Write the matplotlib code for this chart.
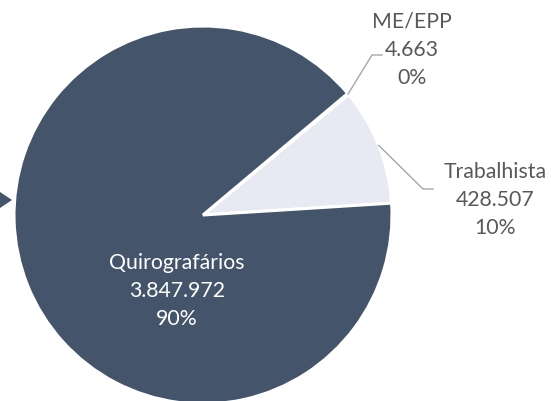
import numpy as np
import matplotlib
matplotlib.use("Agg")
import matplotlib.pyplot as plt
from matplotlib.patches import Polygon

plt.rcParams['font.family'] = ['Lato', 'DejaVu Sans']

# dados
categorias = ["Trabalhista", "ME/EPP", "Quirografários"]
valores = [428507, 4663, 3847972]
cores = ["#E7E9F3", "#44546A", "#44546A"]

W, H = 551, 401
fig = plt.figure(figsize=(W / 100, H / 100), dpi=100)
ax = fig.add_axes([0, 0, 1, 1])

cx, cy, r = 203, 186, 189
wedges, _ = ax.pie(valores, colors=cores, startangle=3.6, counterclock=True,
                   center=(cx, cy), radius=r, frame=True,
                   wedgeprops=dict(edgecolor="white", linewidth=2.2))
ax.set_xlim(0, W)
ax.set_ylim(0, H)
ax.set_aspect("equal")
ax.axis("off")

total = sum(valores)

def fmt(v):
    return f"{v:,}".replace(",", ".")

def rotulo(i):
    pct = round(valores[i] / total * 100)
    return f"{categorias[i]}\n{fmt(valores[i])}\n{pct}%"

tam = 15.3
esp = 1.5

# rótulo interno
ax.text(177, 110, rotulo(2), color="white", fontsize=tam, ha="center",
        va="center", linespacing=esp)

# rótulos externos com linha de chamada
externos = {0: (495, 201, 433, 212), 1: (412, 351, 382, 346)}
for i, (tx, ty, lx, ly) in externos.items():
    w = wedges[i]
    ang = np.deg2rad((w.theta1 + w.theta2) / 2)
    x0, y0 = cx + r * np.cos(ang), cy + r * np.sin(ang)
    ax.plot([x0, lx - 10, lx], [y0, ly, ly], color="#A6A6A6", lw=1.0)
    ax.text(tx, ty, rotulo(i), color="#595959", fontsize=tam, ha="center",
            va="center", linespacing=esp)

# seta à esquerda
seta = np.array([[0, H - 192], [12, H - 200], [0, H - 208]])
ax.add_patch(Polygon(seta, closed=True, facecolor="#44546A", edgecolor="none"))

fig.savefig("out.png", dpi=100, facecolor="white")
